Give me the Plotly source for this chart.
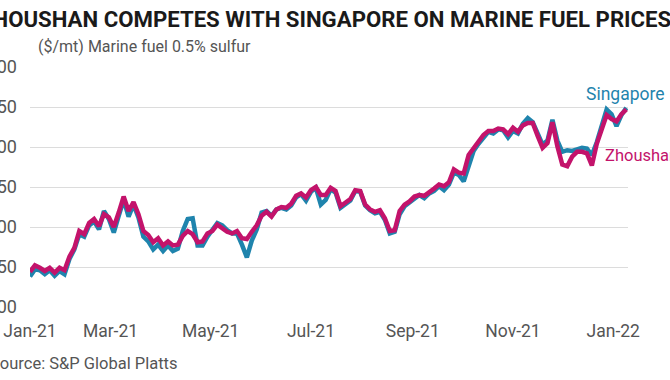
import pandas as pd
import plotly.graph_objects as go

# Marine fuel 0.5% sulfur, $/mt, sampled every 3 days from 11 Jan 2021
zhoushan = [444, 452, 449, 445, 449, 443, 449, 446, 463, 474,
            495, 491, 505, 510, 501, 516, 512, 500, 518, 538,
            520, 531, 516, 495, 490, 481, 486, 477, 482, 477,
            478, 489, 495, 491, 481, 482, 492, 495, 503, 498,
            494, 492, 495, 486, 485, 494, 502, 514, 519, 513,
            522, 525, 524, 529, 539, 542, 537, 546, 550, 540,
            540, 549, 545, 526, 530, 535, 546, 545, 528, 522,
            519, 521, 511, 495, 496, 520, 528, 532, 538, 540,
            539, 543, 548, 553, 551, 556, 572, 568, 567, 590,
            598, 607, 615, 620, 620, 623, 622, 616, 624, 619,
            627, 630, 630, 614, 599, 605, 631, 601, 578, 576,
            588, 594, 594, 592, 577, 604, 621, 640, 635, 632,
            641, 647]
singapore = [438, 447, 446, 441, 446, 439, 445, 441, 460, 472,
             491, 488, 502, 507, 497, 520, 510, 493, 514, 534,
             513, 528, 512, 488, 482, 472, 478, 470, 477, 470,
             473, 495, 510, 511, 477, 477, 488, 496, 505, 502,
             496, 492, 492, 478, 462, 483, 497, 518, 520, 514,
             522, 524, 522, 527, 537, 541, 533, 544, 549, 528,
             534, 547, 543, 524, 528, 533, 545, 544, 527, 521,
             517, 519, 509, 492, 494, 516, 526, 531, 535, 540,
             536, 542, 545, 551, 546, 553, 568, 565, 557, 578,
             595, 604, 612, 619, 617, 622, 621, 612, 620, 617,
             629, 636, 631, 616, 603, 608, 634, 608, 594, 596,
             595, 597, 599, 598, 590, 606, 626, 647, 641, 626,
             640, 649]
start_date = "2021-01-11"
tick_dates = ["2021-01-11", "2021-03-01", "2021-05-01", "2021-07-01",
              "2021-09-01", "2021-11-01", "2022-01-01"]
tick_labels = ["Jan-21", "Mar-21", "May-21", "Jul-21", "Sep-21", "Nov-21", "Jan-22"]
y_ticks = [400, 450, 500, 550, 600, 650, 700]

dates = pd.date_range(start_date, periods=len(zhoushan), freq="3D")

BLUE = "#1f84ad"
MAGENTA = "#c3136b"
GREY = "#555555"
FONT = "Roboto"

fig = go.Figure()
fig.add_trace(go.Scatter(x=dates, y=singapore, mode="lines", name="Singapore",
                         line=dict(color=BLUE, width=4.5)))
fig.add_trace(go.Scatter(x=dates, y=zhoushan, mode="lines", name="Zhoushan",
                         line=dict(color=MAGENTA, width=4.5)))

fig.update_layout(
    width=670, height=380,
    template="none",
    showlegend=False,
    paper_bgcolor="white", plot_bgcolor="white",
    margin=dict(l=30, r=42, t=67, b=73),
    font=dict(family=FONT, size=16, color=GREY),
    xaxis=dict(range=["2021-01-11", "2022-01-10"], tickvals=tick_dates, ticktext=tick_labels,
               showgrid=False, zeroline=False, showline=False, ticks="",
               automargin=False, tickfont=dict(size=17.5, color=GREY), ticklabelstandoff=11),
    yaxis=dict(range=[400, 700], tickvals=y_ticks, showgrid=True, gridcolor="#dcdcdc",
               gridwidth=1, zeroline=False, showline=False, ticks="", automargin=False,
               tickfont=dict(size=18, color=GREY), ticklabelstandoff=12),
    annotations=[
        dict(text="<b>ZHOUSHAN COMPETES WITH SINGAPORE ON MARINE FUEL PRICES</b>",
             xref="paper", yref="paper", x=-0.088, y=1.0, yshift=48, xanchor="left", yanchor="middle",
             showarrow=False, font=dict(family=FONT, size=22.2, color="#1a1a1a")),
        dict(text="($/mt) Marine fuel 0.5% sulfur",
             xref="paper", yref="paper", x=0.0094, y=1.0, yshift=21, xanchor="left", yanchor="middle",
             showarrow=False, font=dict(family=FONT, size=16, color=GREY)),
        dict(text="Source: S&P Global Platts",
             xref="paper", yref="paper", x=-0.070, y=0.0, yshift=-56, xanchor="left", yanchor="middle",
             showarrow=False, font=dict(family=FONT, size=16.5, color=GREY)),
        dict(text="Singapore", xref="paper", yref="paper", x=0.9264, y=1.0, yshift=-27,
             xanchor="left", yanchor="middle", showarrow=False,
             font=dict(family=FONT, size=17.5, color=BLUE)),
        dict(text="Zhoushan", xref="paper", yref="paper", x=0.958, y=1.0, yshift=-88,
             xanchor="left", yanchor="middle", showarrow=False,
             font=dict(family=FONT, size=16.5, color=MAGENTA)),
    ],
)

fig.write_html("out.html", config={"displayModeBar": False},
               post_script="document.body.style.margin='0';")
